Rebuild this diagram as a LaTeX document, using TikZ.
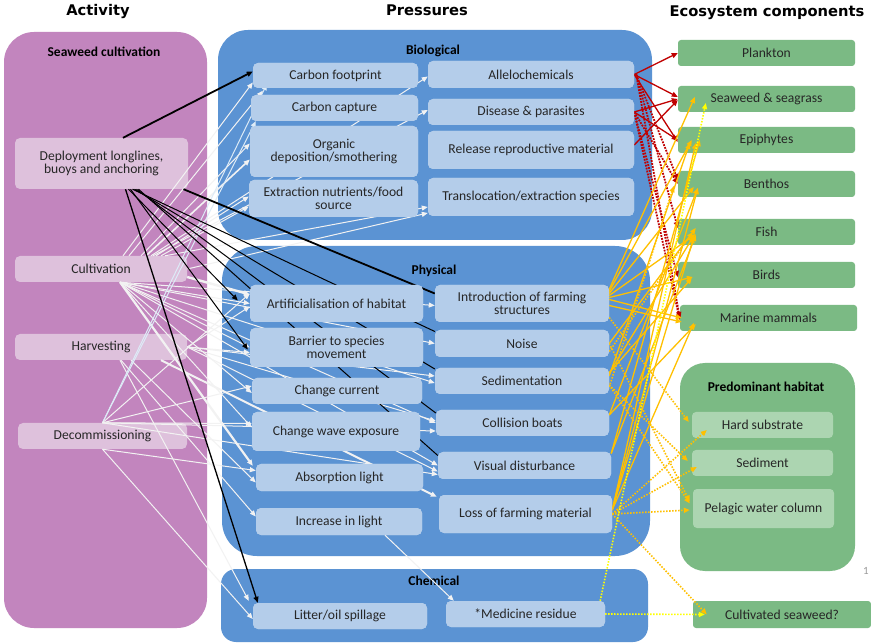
\documentclass[tikz,border=0pt]{standalone}
\usepackage{fontspec}
\setmainfont{Carlito}
\newfontfamily\hfont{DejaVu Sans}
\usetikzlibrary{arrows.meta,calc}
\definecolor{purp}{HTML}{C285BE}
\definecolor{apink}{HTML}{DEC1DC}
\definecolor{cblue}{HTML}{5B93D3}
\definecolor{lblue}{HTML}{B4CDEA}
\definecolor{cgreen}{HTML}{7BBA84}
\definecolor{lgreen}{HTML}{ACD5B1}
\definecolor{ored}{HTML}{C00000}
\definecolor{oorange}{HTML}{FFC000}
\definecolor{oyel}{HTML}{FFFF00}
\definecolor{wline}{HTML}{F2F2F2}
\definecolor{bline}{HTML}{DDEBF7}
\definecolor{txt}{HTML}{262626}
\begin{document}
\begin{tikzpicture}[x=1pt,y=-1pt,
  font=\fontsize{13.6}{13.2}\selectfont,
  abox/.style={fill=apink, rounded corners=5pt, align=center, text=txt, inner sep=1pt},
  pbox/.style={fill=lblue, rounded corners=5pt, align=center, text=txt, inner sep=1pt},
  ebox/.style={fill=cgreen, rounded corners=3pt, align=center, text=txt, inner sep=1pt},
  hbox/.style={fill=lgreen, rounded corners=4pt, align=center, text=txt, inner sep=1pt},
  hdr/.style={font=\hfont\bfseries\fontsize{14.7}{14.7}\selectfont},
  subhdr/.style={font=\bfseries\fontsize{13.5}{13.5}\selectfont, text=black},
  tip/.style={-{Triangle[length=6pt,width=5pt]}},
  blk/.style={black, line width=1pt},
  wht/.style={wline, line width=1pt, tip},
  blu/.style={bline, line width=1pt, tip},
  rd/.style={ored, line width=1.3pt, tip},
  rdd/.style={ored, line width=1.8pt, dash pattern=on 1.8pt off 1.2pt, tip},
  og/.style={oorange, line width=1.3pt, tip},
  ogd/.style={oorange, line width=1.6pt, dash pattern=on 1.5pt off 1.5pt, tip},
  yd/.style={oyel, line width=1.6pt, dash pattern=on 1.5pt off 1.5pt, tip}
]
\useasboundingbox (0,0) rectangle (871,644);
\fill[white] (0,0) rectangle (871,644);

% containers
\fill[purp, rounded corners=30pt] (4,32) rectangle (207,628);
\fill[cblue, rounded corners=30pt] (218,30) rectangle (652,240);
\fill[cblue, rounded corners=35pt] (222,246) rectangle (650,556);
\fill[cblue, rounded corners=15pt] (221,569) rectangle (648,642);
\fill[cgreen, rounded corners=25pt] (680,363) rectangle (855,571);

% headers
\node[hdr] (hact) at (98,12) {Activity};
\node[hdr] (hpre) at (427,10) {Pressures};
\node[hdr] (heco) at (767,13) {Ecosystem components};
\node[subhdr] (hsea) at (104,52) {Seaweed cultivation};
\node[subhdr] (hbio) at (433,51) {Biological};
\node[subhdr] (hphy) at (434,271) {Physical};
\node[subhdr] (hche) at (434,581) {Chemical};
\node[subhdr] (hhab) at (766,387) {Predominant habitat};
\node[text=black!40, font=\fontsize{11}{11}\selectfont] (pg) at (866,571) {1};

% ecosystem boxes
\node[ebox, minimum width=177pt, minimum height=26pt] (plank) at (766.5,53) {Plankton};
\node[ebox, minimum width=177pt, minimum height=26pt] (sea) at (766.5,99) {Seaweed \& seagrass};
\node[ebox, minimum width=177pt, minimum height=26pt] (epi) at (766.5,140) {Epiphytes};
\node[ebox, minimum width=177pt, minimum height=26pt] (benth) at (766.5,184) {Benthos};
\node[ebox, minimum width=177pt, minimum height=26pt] (fish) at (766.5,232) {Fish};
\node[ebox, minimum width=177pt, minimum height=26pt] (birds) at (766.5,275) {Birds};
\node[ebox, minimum width=177pt, minimum height=26pt] (mm) at (768.5,318) {Marine mammals};
\node[hbox, minimum width=141pt, minimum height=26pt] (hard) at (762.5,425) {Hard substrate};
\node[hbox, minimum width=141pt, minimum height=26pt] (sedm) at (762.5,463) {Sediment};
\node[hbox, minimum width=141pt, minimum height=39pt] (pel) at (763.5,508.5) {Pelagic water column};
\node[ebox, minimum width=178pt, minimum height=27pt] (cs) at (782,614.5) {Cultivated seaweed?};

% activity boxes
\node[abox, minimum width=173pt, minimum height=51pt] (dep) at (101.5,163.5) {Deployment longlines,\\buoys and anchoring};
\node[abox, minimum width=172pt, minimum height=26pt] (cult) at (101,269) {Cultivation};
\node[abox, minimum width=172pt, minimum height=26pt] (harv) at (101,347) {Harvesting};
\node[abox, minimum width=169pt, minimum height=26pt] (decom) at (102.5,436) {Decommissioning};

% pressure boxes: placed as invisible nodes first, drawn later
\begin{scope}[every node/.append style={fill=none, text opacity=0}]
\node[pbox, minimum width=165pt, minimum height=25pt] (cf) at (335.5,75.5) {};
\node[pbox, minimum width=167pt, minimum height=26pt] (cc) at (334.5,108) {};
\node[pbox, minimum width=168pt, minimum height=51pt] (org) at (334,151.5) {};
\node[pbox, minimum width=169pt, minimum height=37pt] (ext) at (333.5,198.5) {};
\node[pbox, minimum width=206pt, minimum height=27pt] (alle) at (531,74.5) {};
\node[pbox, minimum width=206pt, minimum height=26pt] (dis) at (531,112) {};
\node[pbox, minimum width=206pt, minimum height=38pt] (rel) at (531,150) {};
\node[pbox, minimum width=206pt, minimum height=38pt] (trans) at (531,197) {};
\node[pbox, minimum width=173pt, minimum height=37pt] (art) at (336.5,303.5) {};
\node[pbox, minimum width=173pt, minimum height=39pt] (bar) at (336.5,347.5) {};
\node[pbox, minimum width=170pt, minimum height=26pt] (cur) at (337,391) {};
\node[pbox, minimum width=168pt, minimum height=39pt] (wave) at (336,431.5) {};
\node[pbox, minimum width=167pt, minimum height=27pt] (abs) at (339.5,477.5) {};
\node[pbox, minimum width=166pt, minimum height=27pt] (inc) at (339,521.5) {};
\node[pbox, minimum width=174pt, minimum height=37pt] (intro) at (522,303.5) {};
\node[pbox, minimum width=174pt, minimum height=27pt] (noise) at (522,343.5) {};
\node[pbox, minimum width=174pt, minimum height=26pt] (sed) at (522,381) {};
\node[pbox, minimum width=173pt, minimum height=26pt] (col) at (522.5,423) {};
\node[pbox, minimum width=173pt, minimum height=27pt] (vis) at (524.5,465.5) {};
\node[pbox, minimum width=173pt, minimum height=38pt] (loss) at (525.5,514) {};
\node[pbox, minimum width=174pt, minimum height=26pt] (lit) at (340,616) {};
\node[pbox, minimum width=159pt, minimum height=26pt] (med) at (525.5,614) {};
\end{scope}

% ---- white / light arrows ----
\draw[wht] ([xshift=22pt]cult.north) -- ([yshift=-7pt]cf.west);
\draw[wht] ([xshift=28pt]cult.north) -- ([xshift=12pt,yshift=4pt]cc.north west);
\draw[wht] ([xshift=40pt]cult.north) -- ([yshift=8pt]org.west);
\draw[wht, line width=1.6pt] ([xshift=45pt]cult.north) -- ([yshift=-8pt]org.west);
\draw[wht] ([xshift=55pt]cult.north) -- ([yshift=2pt]ext.west);
\draw[wht] ([xshift=60pt]cult.north) -- ([yshift=-8pt]ext.west);
\draw[wht] ([xshift=50pt]cult.north) -- ([yshift=-2pt]alle.west);
\draw[wht] ([xshift=52pt]cult.north) -- ([yshift=2pt]dis.west);
\draw[wht] (cult.east) -- ([yshift=-16pt]trans.west);
\draw[wht] ([xshift=64pt]cult.north) -- ([yshift=-10pt]trans.west);
\draw[wht, line width=2.4pt] ([yshift=-8pt]cult.east) -- ([yshift=9pt]art.west);
\draw[wht] ([xshift=19pt]cult.south) -- (art.west);
\draw[wht] ([xshift=19pt]cult.south) -- (bar.west);
\draw[wht] ([xshift=19pt]cult.south) -- ([yshift=-2pt]cur.west);
\draw[wht] ([xshift=19pt]cult.south) -- ([yshift=4pt]wave.west);
\draw[wht, line width=2.2pt] ([xshift=19pt]cult.south) -- ([xshift=-3pt,yshift=-2pt]abs.north west);
\draw[wht] ([xshift=19pt]cult.south) -- ([yshift=-2pt]intro.west);
\draw[wht] ([xshift=19pt]cult.south) -- (noise.west);
\draw[wht] ([xshift=19pt]cult.south) -- ([yshift=-2pt]sed.west);
\draw[wht] ([xshift=19pt]cult.south) -- (col.west);
\draw[wht] ([xshift=19pt]cult.south) -- (vis.west);
\draw[wht] (harv.east) -- ([yshift=-3pt]art.west);
\draw[wht] (harv.east) -- ([yshift=-5pt]bar.west);
\draw[wht] ([xshift=30pt]harv.south) -- ([yshift=-5pt]abs.west);
\draw[wht] ([xshift=20pt]harv.south) -- ([yshift=5pt]inc.west);
\draw[wht] ([xshift=19pt]harv.south) -- ([xshift=-4pt,yshift=2pt]lit.north west);
\draw[wht] (harv.east) -- ([yshift=5pt]sed.west);
\draw[wht] (harv.east) -- ([yshift=2pt]col.west);
\draw[wht] (harv.east) -- ([yshift=-6pt]vis.west);
\draw[wht, line width=2pt] ([xshift=60pt]harv.south) -- ([xshift=-2pt,yshift=-2pt]loss.north west);
\draw[blu] (decom.north) -- ([xshift=5pt]cc.south west);
\draw[blu] (decom.north) -- ([xshift=14pt,yshift=4pt]cf.south west);
\draw[wht] (decom.north) -- ([yshift=5pt]cur.west);
\draw[wht] (decom.north) -- ([yshift=8pt]wave.west);
\draw[wht] (decom.north) -- ([yshift=10pt]art.west);
\draw[wht] (decom.north) -- ([yshift=-8pt]col.west);
\draw[wht] (decom.north) -- ([yshift=-9pt]vis.west);
\draw[wht] (decom.south) -- ([yshift=7pt]abs.west);
\draw[wht] (decom.south) -- ([yshift=-3pt]lit.west);
\draw[wht] ([xshift=46pt]inc.south) -- ([xshift=8pt]med.north west);

% ---- black arrows ----
\draw[blk, line width=1.8pt, tip] ([xshift=21.5pt]dep.north) -- ([yshift=4pt]cf.west);
\draw[blk, line width=1.3pt, tip] ([xshift=24pt]dep.south) -- ([xshift=5pt]lit.north west);
\draw[blk, tip] ([xshift=27pt]dep.south) -- ([xshift=-12pt,yshift=3pt]art.west);
\draw[blk, tip] ([xshift=29pt]dep.south) -- ([xshift=-2pt,yshift=-2pt]bar.west);
\draw[blk, line width=1.8pt] ([xshift=82pt]dep.south) -- ([yshift=10pt]intro.west);
\draw[blk] ([xshift=31pt]dep.south) -- ([yshift=12pt]noise.west);
\draw[blk] ([xshift=33pt]dep.south) -- ([yshift=12pt]sed.west);
\draw[blk] ([xshift=35pt]dep.south) -- ([yshift=10pt]col.west);
\draw[blk] ([xshift=37pt]dep.south) -- ([yshift=10pt]vis.west);

% ---- red arrows ----
\draw[rd] (alle.east) -- (plank.west);
\draw[rd] (alle.east) -- ([yshift=2pt]sea.west);
\draw[rd] (alle.east) -- ([yshift=-2pt]epi.west);
\draw[rd] (dis.east) -- (sea.west);
\draw[rd] (dis.east) -- (epi.west);
\draw[rd] ([yshift=5pt]rel.east) -- ([yshift=-1pt]sea.west);
\draw[rdd] ([xshift=2pt]alle.east) -- ([yshift=4pt]benth.west);
\draw[rdd] ([xshift=2pt]alle.east) -- ([yshift=4pt]fish.west);
\draw[rdd] ([xshift=2pt]alle.east) -- (mm.west);
\draw[rdd] (dis.east) -- (benth.west);
\draw[rdd] (dis.east) -- ([yshift=-2pt]birds.west);
\draw[rdd] (dis.east) -- ([yshift=-2pt]mm.west);

% ---- orange arrows ----
\draw[og] ([yshift=14pt]intro.east) -- ([xshift=17pt,yshift=2pt]sea.west);
\draw[og] ([yshift=12pt]intro.east) -- ([xshift=14pt]epi.west);
\draw[og] ([yshift=10pt]intro.east) -- ([xshift=16pt,yshift=-3pt]benth.west);
\draw[og] ([yshift=8pt]intro.east) -- ([xshift=18pt,yshift=-2pt]fish.west);
\draw[og] ([yshift=6pt]intro.east) -- ([xshift=15pt,yshift=-2pt]birds.west);
\draw[og] ([yshift=4pt]intro.east) -- ([xshift=2pt]mm.west);
\draw[og] ([yshift=-2pt]intro.east) -- ([xshift=2pt,yshift=-4pt]mm.west);
\draw[og] (noise.east) -- ([xshift=18pt,yshift=4pt]fish.west);
\draw[og] ([yshift=5pt]sed.east) -- ([xshift=12pt,yshift=-3pt]epi.west);
\draw[og] ([yshift=8pt]sed.east) -- ([xshift=14pt,yshift=-3pt]birds.west);
\draw[og] ([yshift=8pt]sed.east) -- ([xshift=16pt,yshift=-4pt]fish.west);
\draw[og] ([yshift=8pt]col.east) -- ([xshift=16pt,yshift=-6pt]mm.west);
\draw[og] ([yshift=8pt]col.east) -- ([xshift=20pt,yshift=-4pt]benth.west);
\draw[og] ([yshift=12pt]vis.east) -- ([xshift=22pt]epi.west);
\draw[og] ([yshift=12pt]vis.east) -- ([xshift=18pt,yshift=-3pt]fish.west);
\draw[og] ([yshift=4pt]loss.east) -- ([xshift=18pt,yshift=-3pt]epi.west);
\draw[og] ([yshift=4pt]loss.east) -- ([xshift=20pt,yshift=-4pt]benth.west);
\draw[og] ([yshift=4pt]loss.east) -- ([xshift=16pt,yshift=-5pt]fish.west);
\draw[og] ([yshift=4pt]loss.east) -- ([xshift=14pt,yshift=-5pt]mm.west);
\draw[ogd] ([yshift=-14pt]intro.east) -- ([xshift=-3pt,yshift=3pt]hard.west);
\draw[ogd] ([yshift=-4pt]sed.east) -- ([xshift=-4pt,yshift=2pt]sedm.west);
\draw[ogd] ([yshift=-4pt]sed.east) -- ([xshift=-3pt,yshift=5pt]pel.west);
\draw[ogd] (noise.east) -- ([xshift=-3pt,yshift=7pt]pel.west);
\draw[ogd] ([yshift=-8pt]noise.east) -- ([xshift=15pt]fish.west);
\draw[ogd] ([yshift=-6pt]sed.east) -- ([xshift=-4pt,yshift=-2pt]benth.west);
\draw[ogd] (loss.east) -- ([xshift=15pt,yshift=-5pt]hard.west);
\draw[ogd] (loss.east) -- ([xshift=5pt,yshift=-4pt]sedm.west);
\draw[ogd] (loss.east) -- ([xshift=-3pt,yshift=-1.5pt]pel.west);
\draw[ogd] (loss.east) -- ([xshift=14pt]cs.west);
\draw[yd] (med.east) -- ([xshift=12pt]cs.west);
\draw[yd] ([xshift=-5pt]med.north east) -- ([xshift=28pt,yshift=-4pt]sea.west);

% ---- pressure boxes drawn on top ----
\node[pbox, minimum width=165pt, minimum height=25pt] (cft) at (335.5,75.5) {Carbon footprint};
\node[pbox, minimum width=167pt, minimum height=26pt] (cct) at (334.5,108) {Carbon capture};
\node[pbox, minimum width=168pt, minimum height=51pt] (orgt) at (334,151.5) {Organic\\deposition/smothering};
\node[pbox, minimum width=169pt, minimum height=37pt] (extt) at (333.5,198.5) {Extraction nutrients/food\\source};
\node[pbox, minimum width=206pt, minimum height=27pt] (allet) at (531,74.5) {Allelochemicals};
\node[pbox, minimum width=206pt, minimum height=26pt] (dist) at (531,112) {Disease \& parasites};
\node[pbox, minimum width=206pt, minimum height=38pt] (relt) at (531,150) {Release reproductive material};
\node[pbox, minimum width=206pt, minimum height=38pt] (transt) at (531,197) {Translocation/extraction species};
\node[pbox, minimum width=173pt, minimum height=37pt] (artt) at (336.5,303.5) {Artificialisation of habitat};
\node[pbox, minimum width=173pt, minimum height=39pt] (bart) at (336.5,347.5) {Barrier to species\\movement};
\node[pbox, minimum width=170pt, minimum height=26pt] (curt) at (337,391) {Change current};
\node[pbox, minimum width=168pt, minimum height=39pt] (wavet) at (336,431.5) {Change wave exposure};
\node[pbox, minimum width=167pt, minimum height=27pt] (abst) at (339.5,477.5) {Absorption light};
\node[pbox, minimum width=166pt, minimum height=27pt] (inct) at (339,521.5) {Increase in light};
\node[pbox, minimum width=174pt, minimum height=37pt] (introt) at (522,303.5) {Introduction of farming\\structures};
\node[pbox, minimum width=174pt, minimum height=27pt] (noiset) at (522,343.5) {Noise};
\node[pbox, minimum width=174pt, minimum height=26pt] (sedt) at (522,381) {Sedimentation};
\node[pbox, minimum width=173pt, minimum height=26pt] (colt) at (522.5,423) {Collision boats};
\node[pbox, minimum width=173pt, minimum height=27pt] (vist) at (524.5,465.5) {Visual disturbance};
\node[pbox, minimum width=173pt, minimum height=38pt] (losst) at (525.5,514) {Loss of farming material};
\node[pbox, minimum width=174pt, minimum height=26pt] (litt) at (340,616) {Litter/oil spillage};
\node[pbox, minimum width=159pt, minimum height=26pt] (medt) at (525.5,614) {*Medicine residue};
\end{tikzpicture}
\end{document}
